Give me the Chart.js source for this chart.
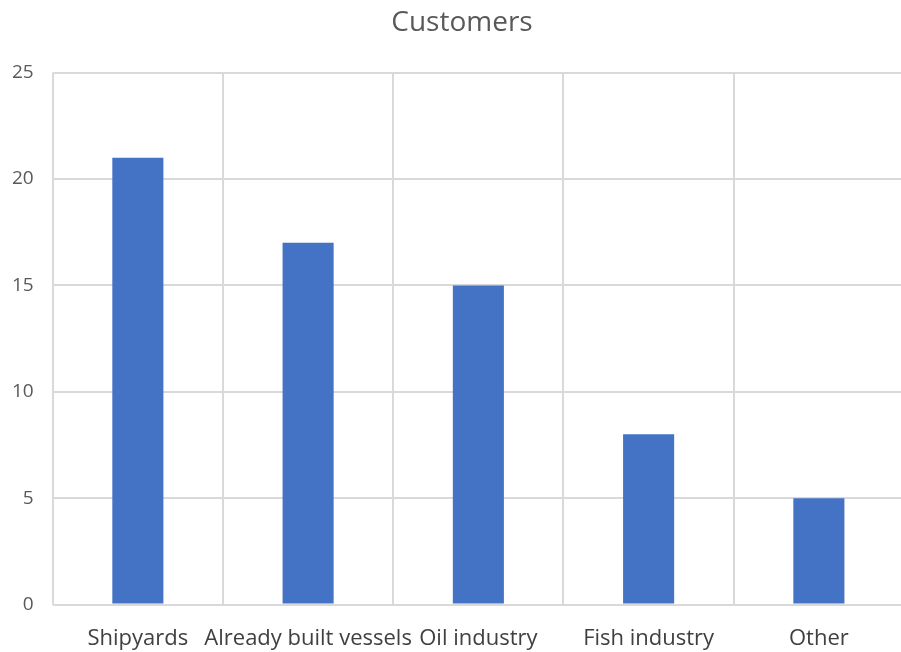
<!DOCTYPE html>
<html>
<head>
<meta charset="utf-8">
<script src="https://cdn.jsdelivr.net/npm/chart.js@4/dist/chart.umd.min.js"></script>
<style>
  html, body { margin: 0; padding: 0; background: #fff; overflow: hidden; }
  #wrap { width: 904px; height: 652px; }
</style>
</head>
<body>
<div id="wrap"><canvas id="customers-chart"></canvas></div>
<script>
// Chart data
const categories = ['Shipyards', 'Already built vessels', 'Oil industry', 'Fish industry', 'Other'];
const customerCounts = [21, 17, 15, 8, 5];
const yTicks = [0, 5, 10, 15, 20, 25];

// the title sits a little right of the canvas centre in the original
const nudgeTitle = {
    id: 'nudgeTitle',
    afterLayout(chart) {
        if (chart.titleBlock) chart.titleBlock.left += 27;
    },
};

function createCustomersChart() {
    const node = document.getElementById('customers-chart');
    const gridColor = '#d9d9d9';

    new Chart(node, {
        type: 'bar',
        data: {
            labels: categories,
            datasets: [{
                label: 'Customers',
                data: customerCounts,
                backgroundColor: '#4472c4',
                barPercentage: 0.3,
                categoryPercentage: 1,
            }],
        },
        plugins: [nudgeTitle],
        options: {
            responsive: true,
            maintainAspectRatio: false,
            animation: false,
            layout: {
                padding: { left: -7, right: 0, top: 6, bottom: -21 },
            },
            plugins: {
                legend: { display: false },
                tooltip: { enabled: false },
                title: {
                    display: true,
                    text: 'Customers',
                    color: '#595959',
                    font: { family: 'Open Sans', size: 28, weight: 'normal' },
                    padding: { top: 0, bottom: 33 },
                },
            },
            scales: {
                x: {
                    offset: true,
                    grid: {
                        offset: true,
                        color: gridColor,
                        lineWidth: 2,
                        drawTicks: false,
                    },
                    border: { display: false },
                    ticks: {
                        color: '#404040',
                        font: { family: 'Open Sans', size: 22 },
                        padding: 21,
                        maxRotation: 0,
                        autoSkip: false,
                    },
                },
                y: {
                    min: 0,
                    max: 25,
                    afterBuildTicks: (axis) => {
                        axis.ticks = yTicks.map(v => ({ value: v }));
                    },
                    grid: {
                        color: gridColor,
                        lineWidth: 2,
                        drawTicks: false,
                    },
                    border: { display: false },
                    ticks: {
                        color: '#595959',
                        font: { family: 'Open Sans', size: 19 },
                        padding: 19,
                    },
                },
            },
        },
    });
}

createCustomersChart();
</script>
</body>
</html>
